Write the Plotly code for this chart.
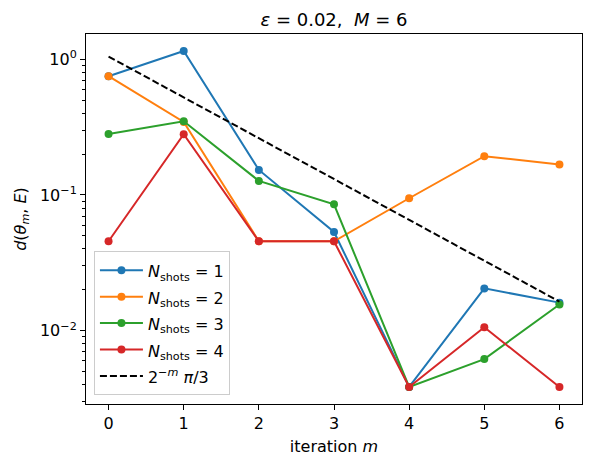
import plotly.graph_objects as go

iterations = [0, 1, 2, 3, 4, 5, 6]
shots_1 = [0.75, 1.15, 0.153, 0.0534, 0.00385, 0.0205, 0.0161]
shots_2 = [0.75, 0.345, 0.0456, 0.0456, 0.0946, 0.193, 0.168]
shots_3 = [0.281, 0.349, 0.127, 0.0854, 0.00385, 0.00618, 0.0156]
shots_4 = [0.0456, 0.28, 0.0456, 0.0456, 0.00385, 0.0106, 0.00385]
reference = [1.047, 0.524, 0.262, 0.131, 0.0654, 0.0327, 0.0164]

def leg(txt):
    return '<span style="font-size:16px">' + txt + '</span>'

series = [
    ("<i>N</i><sub>shots</sub> = 1", shots_1, "#1f77b4"),
    ("<i>N</i><sub>shots</sub> = 2", shots_2, "#ff7f0e"),
    ("<i>N</i><sub>shots</sub> = 3", shots_3, "#2ca02c"),
    ("<i>N</i><sub>shots</sub> = 4", shots_4, "#d62728"),
]

fig = go.Figure()
for name, vals, col in series:
    fig.add_trace(go.Scatter(
        x=iterations, y=vals, name=leg(name), mode="lines+markers",
        line=dict(color=col, width=2),
        marker=dict(color=col, size=8),
    ))
fig.add_trace(go.Scatter(
    x=iterations, y=reference, name=leg("2<sup>−<i>m</i></sup> <i>π</i>/3"),
    mode="lines", line=dict(color="black", width=2, dash="7px,3px"),
))

minor_vals = []
for dec in [0.001, 0.01, 0.1, 1.0]:
    for k in range(2, 10):
        minor_vals.append(dec * k)

font = dict(family="DejaVu Sans", size=16, color="black")
fig.update_layout(
    width=591, height=465,
    margin=dict(l=86, r=9, t=34, b=61),
    paper_bgcolor="white", plot_bgcolor="white",
    font=font,
    title=dict(text="<i>ε</i> = 0.02,  <i>M</i> = 6", x=0.5, xref="paper",
               y=1 - 20 / 465, yref="container", yanchor="middle", xanchor="center",
               font=dict(family="DejaVu Sans", size=18, color="black")),
    showlegend=True,
    legend=dict(x=0.016, y=0.024, xanchor="left", yanchor="bottom",
                bgcolor="rgba(255,255,255,0.8)", bordercolor="#cccccc", borderwidth=1,
                font=dict(family="DejaVu Sans", size=18, color="black"),
                tracegroupgap=0, itemwidth=43),
    xaxis=dict(
        range=[-0.3, 6.3], tickvals=iterations, ticks="outside", ticklen=5,
        tickcolor="black", showline=True, linecolor="black", linewidth=1, mirror=True,
        showgrid=False, zeroline=False, tickfont=font,
        title=dict(text="iteration <i>m</i>", standoff=8, font=font),
    ),
    yaxis=dict(
        type="log", range=[-2.54, 0.186],
        tickvals=[0.01, 0.1, 1], ticktext=["10<sup>−2</sup>", "10<sup>−1</sup>", "10<sup>0</sup>"],
        ticks="outside", ticklen=5, tickcolor="black", tickfont=font,
        minor=dict(tickvals=minor_vals, ticks="outside", ticklen=3, tickcolor="black", showgrid=False),
        showline=True, linecolor="black", linewidth=1, mirror=True,
        showgrid=False, zeroline=False,
        title=dict(text="<i>d</i>(<i>θ</i><sub><i>m</i></sub>, <i>E</i>)", standoff=9, font=font),
    ),
)

fig.write_html("out.html")
